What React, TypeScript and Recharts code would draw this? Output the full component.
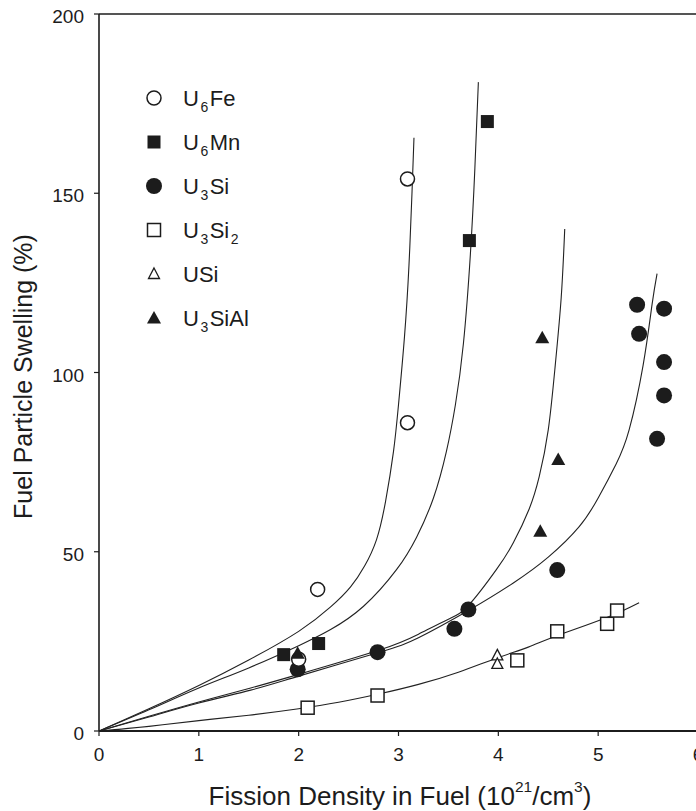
import React from 'react';
import { ComposedChart, Line, Scatter, XAxis, YAxis, ReferenceLine, Legend } from 'recharts';

// axis ticks
const xTicks = [0, 1, 2, 3, 4, 5, 6];
const yTicks = [0, 50, 100, 150, 200];

// fitted swelling curves
const fitU6Fe = [
  { x: 0, y: 0 }, { x: 0.5, y: 6.2 }, { x: 1, y: 12.7 }, { x: 1.5, y: 19.8 }, { x: 2, y: 27.8 },
  { x: 2.32, y: 34.6 }, { x: 2.52, y: 40.2 }, { x: 2.66, y: 46 }, { x: 2.78, y: 53.4 },
  { x: 2.87, y: 64 }, { x: 2.95, y: 78 }, { x: 3.0, y: 91 }, { x: 3.06, y: 110 },
  { x: 3.105, y: 130 }, { x: 3.135, y: 150 }, { x: 3.155, y: 165.5 },
];
const fitU6Mn = [
  { x: 0, y: 0 }, { x: 0.5, y: 5.9 }, { x: 1, y: 12 }, { x: 1.5, y: 17.6 }, { x: 2, y: 23.8 },
  { x: 2.32, y: 28.3 }, { x: 2.65, y: 34.8 }, { x: 2.98, y: 45 }, { x: 3.18, y: 54 },
  { x: 3.35, y: 65 }, { x: 3.48, y: 78 }, { x: 3.57, y: 91 }, { x: 3.65, y: 108 },
  { x: 3.72, y: 133 }, { x: 3.765, y: 157 }, { x: 3.8, y: 181 },
];
const fitU3SiAl = [
  { x: 0, y: 0 }, { x: 0.5, y: 4.1 }, { x: 1, y: 8.1 }, { x: 1.52, y: 12 }, { x: 2, y: 15.8 },
  { x: 2.8, y: 22.5 }, { x: 3.2, y: 27 }, { x: 3.5, y: 31.2 }, { x: 3.7, y: 35 },
  { x: 3.98, y: 45 }, { x: 4.15, y: 52.5 }, { x: 4.31, y: 62 }, { x: 4.41, y: 71 },
  { x: 4.5, y: 84 }, { x: 4.57, y: 102 }, { x: 4.63, y: 121 }, { x: 4.665, y: 140 },
];
const fitU3Si = [
  { x: 0, y: 0 }, { x: 0.5, y: 3.9 }, { x: 1, y: 7.8 }, { x: 1.52, y: 11.4 }, { x: 2, y: 15.3 },
  { x: 2.8, y: 21.9 }, { x: 3.2, y: 26 }, { x: 3.7, y: 33.6 }, { x: 4.15, y: 41.3 },
  { x: 4.5, y: 48.5 }, { x: 4.81, y: 57 }, { x: 5.0, y: 65 }, { x: 5.18, y: 74.5 },
  { x: 5.31, y: 84 }, { x: 5.45, y: 102 }, { x: 5.54, y: 119 }, { x: 5.59, y: 127.6 },
];
const fitU3Si2 = [
  { x: 0, y: 0 }, { x: 0.5, y: 1.3 }, { x: 1, y: 2.9 }, { x: 1.5, y: 4.4 }, { x: 2, y: 6.2 },
  { x: 2.4, y: 8 }, { x: 2.8, y: 10.3 }, { x: 3.2, y: 13 }, { x: 3.6, y: 16.4 },
  { x: 3.98, y: 20.3 }, { x: 4.3, y: 23.4 }, { x: 4.58, y: 26.5 }, { x: 5.08, y: 31.6 },
  { x: 5.41, y: 35.8 },
];

// measured points
const ptsU6Fe = [{ x: 2.0, y: 20 }, { x: 2.19, y: 39.5 }, { x: 3.09, y: 86 }, { x: 3.09, y: 154 }];
const ptsU6Mn = [{ x: 1.85, y: 21.3 }, { x: 2.2, y: 24.4 }, { x: 3.71, y: 136.8 }, { x: 3.89, y: 170 }];
const ptsU3Si = [
  { x: 1.99, y: 17.2 }, { x: 2.79, y: 22 }, { x: 3.56, y: 28.5 }, { x: 3.7, y: 33.9 },
  { x: 4.59, y: 44.9 }, { x: 5.39, y: 118.9 }, { x: 5.41, y: 110.8 }, { x: 5.66, y: 117.8 },
  { x: 5.66, y: 102.9 }, { x: 5.66, y: 93.6 }, { x: 5.59, y: 81.5 },
];
const ptsU3Si2 = [
  { x: 2.09, y: 6.5 }, { x: 2.79, y: 9.9 }, { x: 4.19, y: 19.7 }, { x: 4.59, y: 27.8 },
  { x: 5.09, y: 29.9 }, { x: 5.19, y: 33.6 },
];
const ptsUSi = [{ x: 3.99, y: 21.1 }, { x: 3.99, y: 18.7 }];
const ptsU3SiAl = [{ x: 1.99, y: 21.7 }, { x: 4.44, y: 109.7 }, { x: 4.6, y: 75.7 }, { x: 4.42, y: 55.7 }];

const INK = '#1c1c1c';
const FONT = '"Liberation Sans", Arial, Helvetica, sans-serif';

const OpenCircle = ({ cx, cy }: any) => (
  <circle cx={cx} cy={cy} r={7} fill="#fff" stroke={INK} strokeWidth={1.5} />
);
const FilledSquare = ({ cx, cy }: any) => (
  <rect x={cx - 6.5} y={cy - 6.5} width={13} height={13} fill={INK} />
);
const FilledCircle = ({ cx, cy }: any) => <circle cx={cx} cy={cy} r={8} fill={INK} />;
const OpenSquare = ({ cx, cy }: any) => (
  <rect x={cx - 6.5} y={cy - 6.5} width={13} height={13} fill="#fff" stroke={INK} strokeWidth={1.5} />
);
const OpenTriangle = ({ cx, cy }: any) => (
  <polygon
    points={`${cx},${cy - 6} ${cx + 5.5},${cy + 4.5} ${cx - 5.5},${cy + 4.5}`}
    fill="#fff" stroke={INK} strokeWidth={1.3}
  />
);
const FilledTriangle = ({ cx, cy }: any) => (
  <polygon points={`${cx},${cy - 7} ${cx + 7},${cy + 5.5} ${cx - 7},${cy + 5.5}`} fill={INK} />
);

// legend label pieces: [text, isSubscript]
const legendRows: { parts: [string, boolean][]; Shape: any }[] = [
  { parts: [['U', false], ['6', true], ['Fe', false]], Shape: OpenCircle },
  { parts: [['U', false], ['6', true], ['Mn', false]], Shape: FilledSquare },
  { parts: [['U', false], ['3', true], ['Si', false]], Shape: FilledCircle },
  { parts: [['U', false], ['3', true], ['Si', false], ['2', true]], Shape: OpenSquare },
  { parts: [['USi', false]], Shape: OpenTriangle },
  { parts: [['U', false], ['3', true], ['SiAl', false]], Shape: FilledTriangle },
];

const renderLegend = () => (
  <svg width={220} height={270}>
    {legendRows.map((row, i) => {
      const cy = 22 + i * 44;
      let wasSub = false;
      return (
        <g key={i}>
          <row.Shape cx={24} cy={cy} />
          <text x={53} y={cy + 8} fontSize={22} fontFamily={FONT} fill={INK}>
            {row.parts.map(([t, sub], j) => {
              const dy = sub ? (wasSub ? 0 : 6) : wasSub ? -6 : 0;
              const dx = j > 0 ? 1.5 : 0;
              wasSub = sub;
              return (
                <tspan key={j} dx={dx} dy={dy} fontSize={sub ? 14 : 22}>{t}</tspan>
              );
            })}
          </text>
        </g>
      );
    })}
  </svg>
);

const YTitle = ({ viewBox }: any) => {
  const px = viewBox.x + 32;
  const py = viewBox.y + viewBox.height / 2 + 4;
  return (
    <text x={px} y={py} transform={`rotate(-90 ${px} ${py})`} textAnchor="middle"
      fontSize={25} fontFamily={FONT} fill={INK}>
      Fuel Particle Swelling (%)
    </text>
  );
};

const XTitle = ({ viewBox }: any) => (
  <text x={viewBox.x + 301} y={viewBox.y + 74} textAnchor="middle" fontSize={26} fontFamily={FONT} fill={INK}>
    <tspan>Fission Density in Fuel (10</tspan>
    <tspan dy={-13} fontSize={15.5}>21</tspan>
    <tspan dy={13}>/cm</tspan>
    <tspan dy={-13} fontSize={15.5}>3</tspan>
    <tspan dy={13}>)</tspan>
  </text>
);

const curves = [fitU6Fe, fitU6Mn, fitU3SiAl, fitU3Si, fitU3Si2];

export default function App() {
  const tickStyle = { fontSize: 19, fill: INK, fontFamily: FONT };
  return (
    <div style={{ position: 'fixed', left: 0, top: 0, width: 696, height: 811, overflow: 'hidden', background: '#fff' }}>
      <ComposedChart width={760} height={811} margin={{ top: 14, right: 62, bottom: 0, left: 0 }}>
        <XAxis
          type="number" dataKey="x" domain={[0, 6]} ticks={xTicks} allowDataOverflow
          height={80} tickSize={5} tickMargin={12} tick={tickStyle}
          axisLine={{ stroke: INK, strokeWidth: 2 }} tickLine={{ stroke: INK, strokeWidth: 1.2 }}
          label={<XTitle />}
        />
        <YAxis
          type="number" dataKey="y" domain={[0, 200]} ticks={yTicks} allowDataOverflow
          width={99} tickSize={5} tickMargin={10} tick={{ ...tickStyle, dy: 2.5 }}
          axisLine={{ stroke: INK, strokeWidth: 1.6 }} tickLine={{ stroke: INK, strokeWidth: 1.2 }}
          label={<YTitle />}
        />
        <ReferenceLine y={200} stroke={INK} strokeWidth={1.6} ifOverflow="visible" />
        <ReferenceLine x={6} stroke={INK} strokeWidth={1.6} ifOverflow="visible" />

        {curves.map((c, i) => (
          <Line key={i} data={c} dataKey="y" type="natural" stroke="#222" strokeWidth={1.1}
            dot={false} activeDot={false} isAnimationActive={false} legendType="none" />
        ))}

        <Scatter name="U3Si" data={ptsU3Si} shape={(p: any) => <FilledCircle cx={p.cx} cy={p.cy} />} isAnimationActive={false} />
        <Scatter name="U3Si2" data={ptsU3Si2} shape={(p: any) => <OpenSquare cx={p.cx} cy={p.cy} />} isAnimationActive={false} />
        <Scatter name="USi" data={ptsUSi} shape={(p: any) => <OpenTriangle cx={p.cx} cy={p.cy} />} isAnimationActive={false} />
        <Scatter name="U6Fe" data={ptsU6Fe} shape={(p: any) => <OpenCircle cx={p.cx} cy={p.cy} />} isAnimationActive={false} />
        <Scatter name="U6Mn" data={ptsU6Mn} shape={(p: any) => <FilledSquare cx={p.cx} cy={p.cy} />} isAnimationActive={false} />
        <Scatter name="U3SiAl" data={ptsU3SiAl} shape={(p: any) => <FilledTriangle cx={p.cx} cy={p.cy} />} isAnimationActive={false} />

        <Legend
          layout="vertical" align="center" verticalAlign="middle" content={renderLegend}
          wrapperStyle={{ left: 130, top: 76, width: 220, height: 270 }}
        />
      </ComposedChart>
    </div>
  );
}
